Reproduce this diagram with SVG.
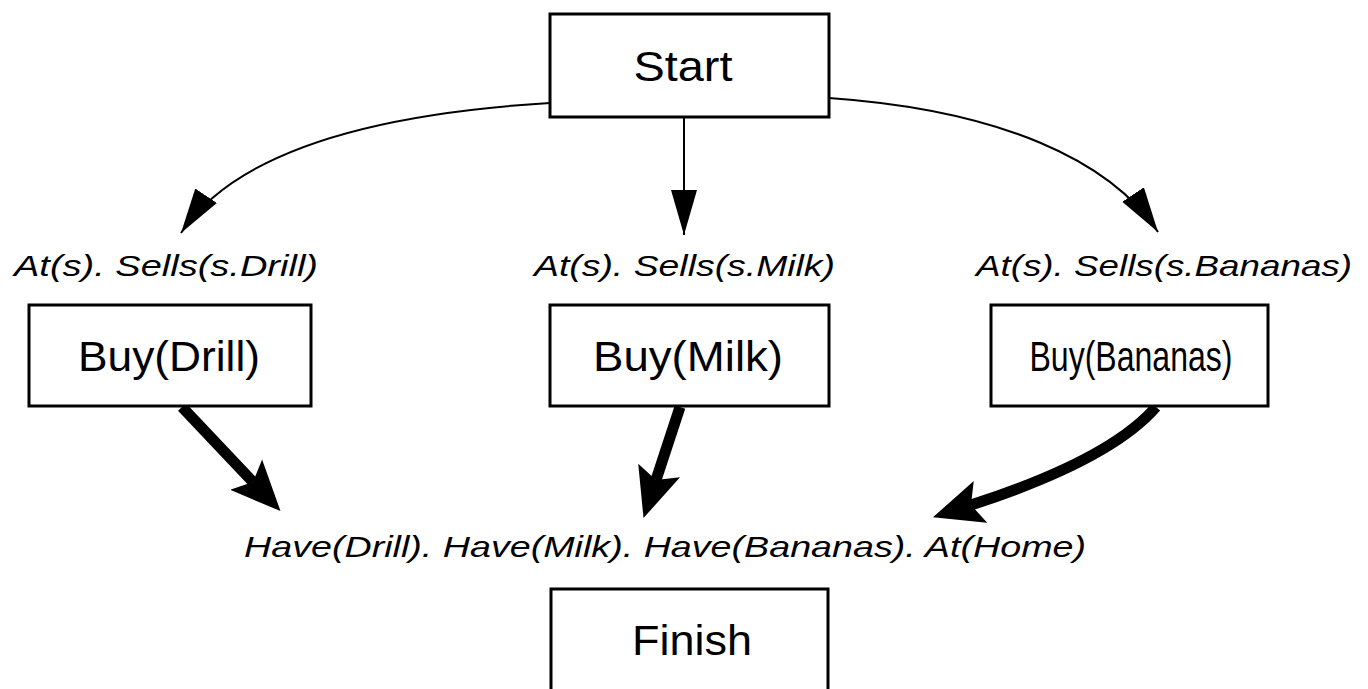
<svg xmlns="http://www.w3.org/2000/svg" width="1368" height="689" viewBox="0 0 1368 689">
  <style>
    .box { fill: #fff; stroke: #000; stroke-width: 3; }
    .name { font-family: "Liberation Sans", Arial, sans-serif; font-size: 42px; fill: #000; text-anchor: middle; }
    .cond { font-family: "Liberation Sans", Arial, sans-serif; font-style: italic; font-size: 29px; fill: #000; }
    .thin { fill: none; stroke: #000; stroke-width: 2; }
    .thick { fill: none; stroke: #000; stroke-width: 11; }
  </style>
  <defs>
    <!-- thin arrowhead: slim flat-based wedge, path ends at the tip -->
    <marker id="arrowThin" markerUnits="userSpaceOnUse" markerWidth="46" markerHeight="28" refX="45" refY="14" orient="auto">
      <path d="M0,1 L45,14 L0,27 Z" fill="#000"/>
    </marker>
    <!-- thick arrowhead: path ends at the notch so the shaft stays hidden -->
    <marker id="arrowThick" markerUnits="userSpaceOnUse" markerWidth="52" markerHeight="46" refX="10" refY="23" orient="auto">
      <path d="M0,1 L50,23 L0,45 L10,23 Z" fill="#000"/>
    </marker>
  </defs>

  <g id="connectors">
    <path class="thin" d="M550,103 C350,115 230,160 181,233" marker-end="url(#arrowThin)"/>
    <path class="thin" d="M684,117 L684,235" marker-end="url(#arrowThin)"/>
    <path class="thin" d="M829,98 C1000,110 1110,160 1158,232" marker-end="url(#arrowThin)"/>
    <path class="thick" d="M182,407 L253,482" marker-end="url(#arrowThick)"/>
    <path class="thick" d="M680,407 L656,480" marker-end="url(#arrowThick)"/>
    <path class="thick" d="M1156,407 Q1110,460 971,505" marker-end="url(#arrowThick)"/>
  </g>

  <g id="start">
    <rect class="box" x="550" y="14" width="279" height="103"/>
    <text class="name" x="683" y="81" textLength="99" lengthAdjust="spacingAndGlyphs">Start</text>
  </g>

  <g id="buy-drill">
    <rect class="box" x="29" y="305" width="282" height="101"/>
    <text class="cond" x="14" y="276" textLength="304" lengthAdjust="spacingAndGlyphs">At(s). Sells(s.Drill)</text>
    <text class="name" x="169" y="371" textLength="182" lengthAdjust="spacingAndGlyphs">Buy(Drill)</text>
  </g>

  <g id="buy-milk">
    <rect class="box" x="550" y="305" width="279" height="101"/>
    <text class="cond" x="534" y="276" textLength="301" lengthAdjust="spacingAndGlyphs">At(s). Sells(s.Milk)</text>
    <text class="name" x="688" y="371" textLength="190" lengthAdjust="spacingAndGlyphs">Buy(Milk)</text>
  </g>

  <g id="buy-bananas">
    <rect class="box" x="991" y="305" width="277" height="101"/>
    <text class="cond" x="976" y="276" textLength="376" lengthAdjust="spacingAndGlyphs">At(s). Sells(s.Bananas)</text>
    <text class="name" x="1131" y="371" textLength="203" lengthAdjust="spacingAndGlyphs">Buy(Bananas)</text>
  </g>

  <g id="finish">
    <text class="cond" x="244" y="557" textLength="842" lengthAdjust="spacingAndGlyphs">Have(Drill). Have(Milk). Have(Bananas). At(Home)</text>
    <rect class="box" x="551" y="589" width="277" height="110"/>
    <text class="name" x="692" y="655" textLength="120" lengthAdjust="spacingAndGlyphs">Finish</text>
  </g>
</svg>
